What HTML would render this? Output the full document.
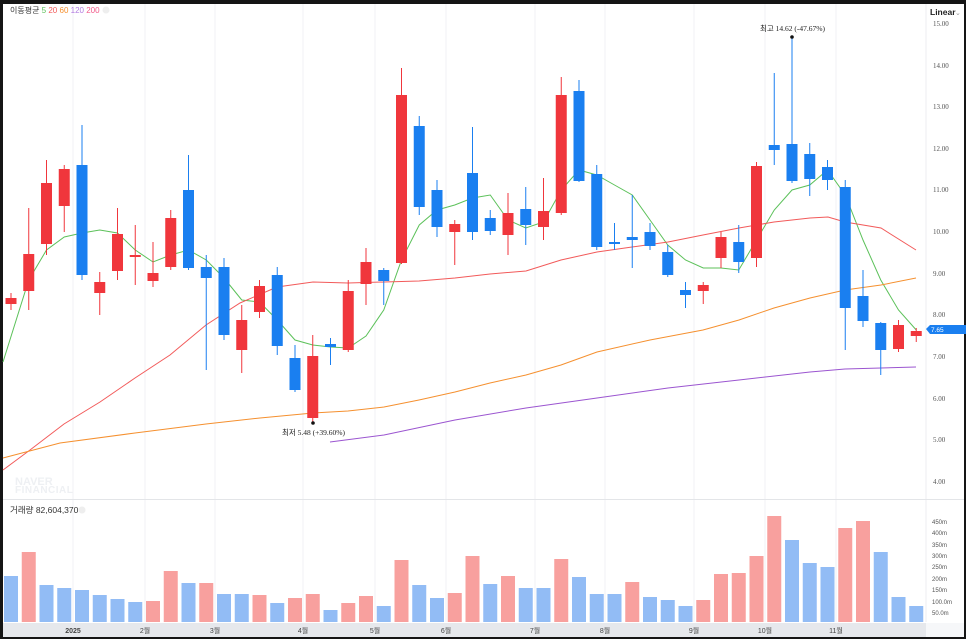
<!DOCTYPE html>
<html><head><meta charset="utf-8">
<style>
html,body{margin:0;padding:0;background:#111;}
svg{display:block;font-family:"Liberation Sans","Noto Sans CJK KR",sans-serif;}
</style></head>
<body>
<svg id="c" width="966" height="639" viewBox="0 0 966 639" xmlns="http://www.w3.org/2000/svg">
<rect x="0" y="0" width="966" height="639" fill="#151515"/>
<rect x="3" y="4" width="961" height="633" fill="#ffffff"/>
<g id="grid" stroke="#f1f2f4" stroke-width="1">
<line x1="73" y1="4" x2="73" y2="622"/><line x1="145" y1="4" x2="145" y2="622"/><line x1="215" y1="4" x2="215" y2="622"/><line x1="303" y1="4" x2="303" y2="622"/><line x1="375" y1="4" x2="375" y2="622"/><line x1="446" y1="4" x2="446" y2="622"/><line x1="535" y1="4" x2="535" y2="622"/><line x1="605" y1="4" x2="605" y2="622"/><line x1="694" y1="4" x2="694" y2="622"/><line x1="765" y1="4" x2="765" y2="622"/><line x1="836" y1="4" x2="836" y2="622"/>
</g>
<line x1="926" y1="4" x2="926" y2="622" stroke="#eceef1"/>
<line x1="3" y1="499.5" x2="964" y2="499.5" stroke="#e3e5e8"/>
<text x="15" y="485" font-size="11" font-weight="bold" fill="#eef0f3">NAVER</text>
<text x="15" y="493" font-size="10" font-weight="bold" fill="#eef0f3" letter-spacing="0.5">FINANCIAL</text>
<g id="vol"></g>
<g id="ma" fill="none" stroke-width="1"></g>
<g id="cd"></g>
<text x="10" y="13" font-size="8" fill="#333">이동평균 <tspan fill="#5cc15a">5</tspan> <tspan fill="#f25a5a">20</tspan> <tspan fill="#f5902f">60</tspan> <tspan fill="#b27ce0">120</tspan> <tspan fill="#f25a8a">200</tspan></text>
<circle cx="106" cy="10" r="3.5" fill="#eee"/>
<text x="930" y="15" font-size="8.5" font-weight="bold" fill="#222">Linear</text>
<text x="955" y="15" font-size="7" fill="#999">⌄</text>
<g font-size="7" fill="#555" font-family="Liberation Serif,serif">
<text x="933" y="26">15.00</text><text x="933" y="68">14.00</text><text x="933" y="109">13.00</text><text x="933" y="151">12.00</text><text x="933" y="192">11.00</text><text x="933" y="234">10.00</text><text x="933" y="276">9.00</text><text x="933" y="317">8.00</text><text x="933" y="359">7.00</text><text x="933" y="401">6.00</text><text x="933" y="442">5.00</text><text x="933" y="484">4.00</text>
</g>
<path d="M926 329 L930 325 H966 V334 H930 Z" fill="#1a7ff0"/>
<text x="931" y="332" font-size="6.5" fill="#fff">7.65</text>
<text x="760" y="31" font-size="7.5" fill="#222" font-family="Liberation Serif,serif">최고  14.62 (-47.67%)</text>
<circle cx="792" cy="37" r="1.8" fill="#111"/>
<text x="282" y="435" font-size="7.5" fill="#222" font-family="Liberation Serif,serif">최저  5.48 (+39.60%)</text>
<circle cx="313" cy="423" r="1.8" fill="#111"/>
<text x="10" y="513" font-size="8.5" fill="#333">거래량 82,604,370</text>
<circle cx="82" cy="510" r="3.5" fill="#eee"/>
<g font-size="6" fill="#555">
<text x="932" y="524">450m</text><text x="932" y="535">400m</text><text x="932" y="547">350m</text><text x="932" y="558">300m</text><text x="932" y="569">250m</text><text x="932" y="581">200m</text><text x="932" y="592">150m</text><text x="932" y="604">100.0m</text><text x="932" y="615">50.0m</text>
</g>
<rect x="3" y="623" width="923" height="14" fill="#e6e8ec"/>
<rect x="926" y="623" width="38" height="14" fill="#f6f7f9"/>
<g font-size="7" fill="#444" text-anchor="middle">
<text x="73" y="633" font-weight="bold">2025</text><text x="145" y="633">2월</text><text x="215" y="633">3월</text><text x="303" y="633">4월</text><text x="375" y="633">5월</text><text x="446" y="633">6월</text><text x="535" y="633">7월</text><text x="605" y="633">8월</text><text x="694" y="633">9월</text><text x="765" y="633">10월</text><text x="836" y="633">11월</text>
</g>
<script>
var C=[['r',298,304,293,310],['r',254,291,208,310],['r',183,244,160,255],['r',169,206,165,232],['b',165,275,125,280],['r',282,293,272,315],['r',234,271,208,280],['r',255,257,225,285],['r',273,281,242,287],['r',218,267,210,270],['b',190,268,155,270],['b',267,278,255,370],['b',267,335,258,340],['r',320,350,305,373],['r',286,312,280,318],['b',275,346,267,355],['b',358,390,345,392],['r',356,418,335,422],['b',344,347,338,365],['r',291,350,280,352],['r',262,284,248,305],['b',270,281,268,305],['r',95,263,68,264],['b',126,207,116,215],['b',190,227,180,237],['r',224,232,220,265],['b',173,232,127,240],['b',218,231,210,235],['r',213,235,193,255],['b',209,225,187,245],['r',211,227,178,240],['r',95,213,77,215],['b',91,181,80,182],['b',174,247,165,250],['b',242,244,223,250],['b',237,240,195,268],['b',232,246,223,250],['b',252,275,245,277],['b',290,295,282,308],['r',285,291,282,304],['r',237,258,232,268],['b',242,262,225,273],['r',166,258,162,267],['b',145,150,73,165],['b',144,181,37,183],['b',154,179,143,196],['b',167,180,160,190],['b',187,308,180,350],['b',296,321,270,327],['b',323,350,322,375],['r',325,349,320,352],['r',331,336,328,342]];
var V=[576,552,585,588,590,595,599,602,601,571,583,583,594,594,595,603,598,594,610,603,596,606,560,585,598,593,556,584,576,588,588,559,577,594,594,582,597,600,606,600,574,573,556,516,540,563,567,528,521,552,597,606];
var VC='brbbbbbbrrbrbbrbrrbrrbrbbrrbrbbrbbbrbbbrrrrrbbbrrbbb';
var ns='http://www.w3.org/2000/svg';
function el(p,t,a){var e=document.createElementNS(ns,t);for(var k in a)e.setAttribute(k,a[k]);document.getElementById(p).appendChild(e);}
for(var i=0;i<52;i++){var x=11+i*17.75,c=C[i],col=c[0]=='r'?'#f0363c':'#1a7ff0';
el('cd','line',{x1:x,x2:x,y1:c[3],y2:c[4],stroke:col,'stroke-width':1});
el('cd','rect',{x:x-5.5,y:c[1],width:11,height:Math.max(2,c[2]-c[1]),fill:col});
var vc=(VC[i]=='r')?'#f8a09e':'#92bcf5';
el('vol','rect',{x:x-7,y:V[i],width:14,height:622-V[i],fill:vc});}
function pl(pts,col){el('ma','polyline',{points:pts,stroke:col});}
var g=[362,280,250,237,233,230,233,250,262,255,250,260,278,300,302,320,340,345,347,348,336,310,260,225,210,205,198,195,220,228,222,190,170,175,185,195,220,245,260,268,268,270,240,210,190,185,170,195,240,280,310,330];
var s='3,'+g[0];for(var i=1;i<52;i++)s+=' '+(11+i*17.75)+','+g[i];pl(s,'#5cc15a');
pl('3,470 30,450 64,424 100,402 135,378 170,355 206,325 240,303 277,287 313,282 348,283 384,282 419,281 455,278 490,274 526,271 561,260 597,252 632,247 668,242 703,235 739,228 774,222 810,218 828,217 845,222 881,228 916,250','#f25a5a');
pl('3,458 60,443 135,433 206,424 260,418 313,413 348,411 384,407 419,400 455,392 490,383 526,375 561,365 597,352 650,340 703,330 739,320 774,308 810,298 845,290 881,285 916,278','#f5902f');
pl('330,442 384,435 455,420 526,408 597,398 668,388 739,380 810,372 845,369 881,368 916,367','#9b55d0');
</script>
</svg>
</body></html>
